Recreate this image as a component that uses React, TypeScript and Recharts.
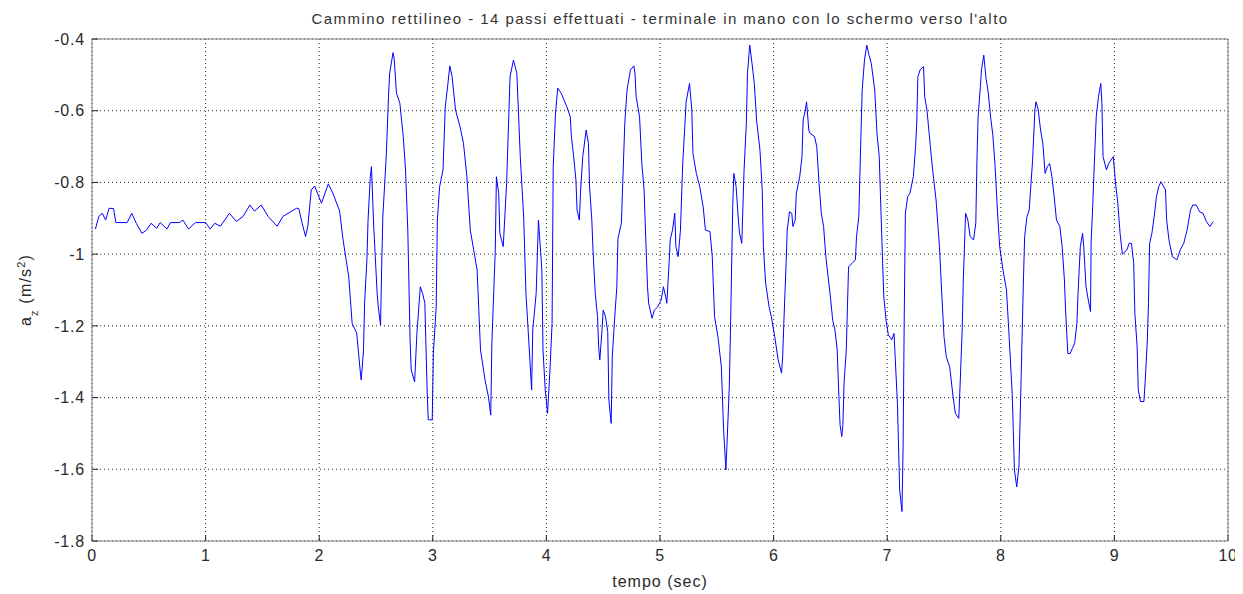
import React from 'react';
import { LineChart, Line, XAxis, YAxis, CartesianGrid, Label } from 'recharts';

// acceleration along z
const timeSec = [
  0.03, 0.06, 0.09, 0.12, 0.15, 0.19, 0.21, 0.31, 0.35, 0.39, 0.44, 0.48, 0.52, 0.57, 0.6, 0.66, 0.69, 0.77, 0.8, 0.85,
  0.91, 1.0, 1.04, 1.08, 1.13, 1.21, 1.27, 1.33, 1.39, 1.43, 1.49, 1.55, 1.63, 1.68, 1.8, 1.82, 1.85, 1.88, 1.9, 1.93,
  1.96, 2.02, 2.08, 2.12, 2.18, 2.21, 2.26, 2.29, 2.33, 2.36, 2.37, 2.39, 2.4, 2.42, 2.43, 2.45, 2.46, 2.48, 2.51, 2.52,
  2.54, 2.55, 2.56, 2.59, 2.61, 2.62, 2.65, 2.66, 2.68, 2.71, 2.74, 2.76, 2.78, 2.8, 2.81, 2.84, 2.86, 2.89, 2.91, 2.93,
  2.95, 2.96, 2.995, 3.005, 3.03, 3.04, 3.06, 3.09, 3.11, 3.13, 3.15, 3.17, 3.2, 3.24, 3.27, 3.3, 3.33, 3.36, 3.39, 3.42,
  3.46, 3.49, 3.51, 3.52, 3.55, 3.56, 3.58, 3.59, 3.62, 3.65, 3.68, 3.71, 3.74, 3.77, 3.8, 3.82, 3.84, 3.87, 3.88, 3.91,
  3.93, 3.94, 3.96, 3.97, 3.99, 4.01, 4.03, 4.05, 4.06, 4.08, 4.1, 4.13, 4.18, 4.21, 4.22, 4.24, 4.26, 4.27, 4.29, 4.3,
  4.32, 4.35, 4.37, 4.38, 4.4, 4.41, 4.43, 4.45, 4.46, 4.47, 4.49, 4.5, 4.52, 4.54, 4.55, 4.57, 4.58, 4.6, 4.62, 4.63,
  4.66, 4.69, 4.71, 4.74, 4.77, 4.78, 4.79, 4.82, 4.84, 4.86, 4.87, 4.89, 4.9, 4.93, 4.95, 4.98, 5.01, 5.03, 5.05, 5.06,
  5.08, 5.09, 5.11, 5.13, 5.14, 5.16, 5.18, 5.2, 5.22, 5.23, 5.26, 5.28, 5.29, 5.32, 5.35, 5.38, 5.4, 5.44, 5.46, 5.48,
  5.51, 5.54, 5.56, 5.58, 5.59, 5.61, 5.62, 5.64, 5.65, 5.67, 5.69, 5.7, 5.72, 5.74, 5.76, 5.77, 5.79, 5.81, 5.83, 5.85,
  5.88, 5.9, 5.91, 5.93, 5.96, 5.98, 6.01, 6.04, 6.07, 6.08, 6.09, 6.11, 6.12, 6.14, 6.16, 6.17, 6.19, 6.2, 6.23, 6.25,
  6.26, 6.28, 6.29, 6.31, 6.32, 6.36, 6.38, 6.4, 6.42, 6.44, 6.46, 6.48, 6.5, 6.52, 6.54, 6.56, 6.575, 6.585, 6.6, 6.61,
  6.62, 6.64, 6.65, 6.66, 6.69, 6.72, 6.73, 6.75, 6.77, 6.78, 6.8, 6.82, 6.84, 6.86, 6.89, 6.91, 6.93, 6.94, 6.96, 6.97,
  6.99, 7.01, 7.04, 7.06, 7.07, 7.09, 7.11, 7.13, 7.14, 7.15, 7.16, 7.18, 7.2, 7.23, 7.25, 7.26, 7.27, 7.29, 7.32, 7.33,
  7.35, 7.38, 7.4, 7.43, 7.46, 7.48, 7.5, 7.52, 7.55, 7.58, 7.6, 7.63, 7.64, 7.66, 7.67, 7.69, 7.71, 7.73, 7.76, 7.78,
  7.79, 7.8, 7.82, 7.83, 7.85, 7.87, 7.89, 7.91, 7.93, 7.95, 7.97, 7.99, 8.02, 8.05, 8.07, 8.1, 8.11, 8.12, 8.14, 8.16,
  8.18, 8.2, 8.21, 8.23, 8.25, 8.26, 8.28, 8.3, 8.31, 8.33, 8.35, 8.37, 8.39, 8.41, 8.43, 8.45, 8.47, 8.49, 8.52, 8.54,
  8.56, 8.57, 8.59, 8.61, 8.63, 8.65, 8.67, 8.68, 8.7, 8.72, 8.73, 8.75, 8.77, 8.79, 8.795, 8.81, 8.82, 8.84, 8.86, 8.88,
  8.89, 8.9, 8.93, 8.95, 8.97, 8.99, 9.01, 9.03, 9.05, 9.07, 9.11, 9.13, 9.15, 9.17, 9.18, 9.2, 9.21, 9.23, 9.26, 9.27,
  9.29, 9.3, 9.31, 9.33, 9.35, 9.37, 9.39, 9.41, 9.45, 9.46, 9.48, 9.51, 9.55, 9.58, 9.61, 9.64, 9.67, 9.69, 9.72, 9.75,
  9.78, 9.81, 9.84, 9.87,
];

const azValues = [
  -0.93, -0.895, -0.886, -0.905, -0.872, -0.873, -0.912, -0.912, -0.886, -0.914, -0.942, -0.933, -0.914, -0.928, -0.912, -0.93, -0.912, -0.912, -0.905, -0.93,
  -0.912, -0.912, -0.93, -0.914, -0.922, -0.886, -0.909, -0.895, -0.863, -0.88, -0.863, -0.895, -0.922, -0.895, -0.872, -0.873, -0.914, -0.951, -0.922, -0.821,
  -0.81, -0.858, -0.804, -0.83, -0.88, -0.96, -1.063, -1.193, -1.22, -1.323, -1.351, -1.267, -1.133, -1.016, -0.905, -0.784, -0.756, -0.923, -1.109, -1.147,
  -1.198, -1.035, -0.896, -0.728, -0.561, -0.496, -0.438, -0.455, -0.551, -0.579, -0.672, -0.765, -0.933, -1.239, -1.323, -1.356, -1.221, -1.091, -1.109, -1.137,
  -1.379, -1.462, -1.462, -1.276, -1.147, -0.905, -0.812, -0.765, -0.589, -0.533, -0.475, -0.505, -0.598, -0.645, -0.691, -0.784, -0.933, -0.988, -1.044, -1.267,
  -1.351, -1.398, -1.449, -1.249, -0.988, -0.784, -0.83, -0.942, -0.979, -0.802, -0.505, -0.459, -0.496, -0.728, -0.896, -1.109, -1.216, -1.379, -1.211, -1.109,
  -0.905, -0.951, -1.044, -1.267, -1.379, -1.444, -1.332, -1.193, -0.756, -0.607, -0.537, -0.551, -0.589, -0.617, -0.672, -0.728, -0.793, -0.877, -0.905, -0.83,
  -0.728, -0.654, -0.691, -0.812, -0.905, -0.988, -1.109, -1.174, -1.258, -1.295, -1.211, -1.156, -1.174, -1.216, -1.407, -1.472, -1.286, -1.184, -1.091, -0.956,
  -0.914, -0.635, -0.542, -0.486, -0.475, -0.496, -0.561, -0.617, -0.747, -0.821, -0.914, -1.091, -1.137, -1.179, -1.156, -1.147, -1.128, -1.091, -1.119, -1.137,
  -1.026, -0.96, -0.933, -0.886, -0.979, -1.007, -0.933, -0.747, -0.635, -0.575, -0.524, -0.598, -0.719, -0.775, -0.812, -0.868, -0.933, -0.937, -1.007, -1.174,
  -1.23, -1.314, -1.49, -1.602, -1.528, -1.37, -1.221, -0.868, -0.775, -0.812, -0.905, -0.942, -0.97, -0.765, -0.635, -0.496, -0.417, -0.468, -0.524, -0.626,
  -0.71, -0.821, -0.979, -1.081, -1.147, -1.174, -1.23, -1.295, -1.332, -1.286, -1.193, -1.026, -0.933, -0.882, -0.886, -0.923, -0.905, -0.83, -0.784, -0.728,
  -0.626, -0.598, -0.575, -0.654, -0.663, -0.672, -0.7, -0.802, -0.886, -0.923, -1.007, -1.063, -1.119, -1.184, -1.211, -1.267, -1.398, -1.476, -1.509, -1.476,
  -1.36, -1.267, -1.147, -1.035, -1.026, -1.016, -0.951, -0.896, -0.654, -0.542, -0.459, -0.417, -0.445, -0.468, -0.542, -0.663, -0.728, -0.83, -1.026, -1.119,
  -1.184, -1.225, -1.239, -1.221, -1.286, -1.416, -1.658, -1.718, -1.537, -1.174, -0.886, -0.84, -0.83, -0.784, -0.7, -0.635, -0.505, -0.486, -0.477, -0.561,
  -0.598, -0.7, -0.765, -0.849, -0.979, -1.109, -1.23, -1.286, -1.314, -1.398, -1.444, -1.458, -1.379, -1.211, -1.072, -0.886, -0.905, -0.951, -0.96, -0.914,
  -0.738, -0.617, -0.533, -0.486, -0.445, -0.51, -0.551, -0.617, -0.668, -0.756, -0.877, -0.979, -1.045, -1.1, -1.211, -1.388, -1.49, -1.602, -1.649, -1.59,
  -1.332, -1.063, -0.951, -0.896, -0.877, -0.83, -0.738, -0.598, -0.575, -0.598, -0.654, -0.691, -0.775, -0.756, -0.747, -0.784, -0.84, -0.905, -0.923, -0.979,
  -1.072, -1.156, -1.277, -1.277, -1.263, -1.249, -1.193, -1.109, -0.979, -0.942, -0.979, -1.091, -1.128, -1.16, -0.97, -0.858, -0.775, -0.617, -0.561, -0.524,
  -0.579, -0.728, -0.765, -0.747, -0.738, -0.728, -0.802, -0.858, -0.942, -1.0, -0.988, -0.97, -0.97, -1.026, -1.165, -1.258, -1.379, -1.411, -1.411, -1.36,
  -1.239, -1.137, -0.97, -0.942, -0.896, -0.84, -0.812, -0.798, -0.821, -0.905, -0.96, -1.007, -1.016, -0.988, -0.97, -0.933, -0.877, -0.863, -0.863, -0.882,
  -0.886, -0.909, -0.923, -0.909,
];

const xTicks = [0, 1, 2, 3, 4, 5, 6, 7, 8, 9, 10];
const yTicks = [-1.8, -1.6, -1.4, -1.2, -1, -0.8, -0.6, -0.4];

const chartTitle = "Cammino rettilineo - 14 passi effettuati - terminale in mano con lo schermo verso l'alto";
const xAxisTitle = 'tempo (sec)';

const FONT = '"Liberation Sans", Arial, Helvetica, sans-serif';
const TEXT = '#2a2a2a';

const rows = timeSec.map((t, i) => ({ t, az: azValues[i] }));

const BottomTick = ({ x, y, payload }: any) => (
  <text x={x} y={y} dy="0.71em" textAnchor="middle" fontSize={16} fill={TEXT} fontFamily={FONT} letterSpacing={0.5}>
    {payload.value}
  </text>
);

const LeftTick = ({ x, y, payload }: any) => (
  <text x={x} y={y} dy="0.355em" textAnchor="end" fontSize={16} fill={TEXT} fontFamily={FONT} letterSpacing={0.8}>
    {payload.value}
  </text>
);

const TitleLabel = ({ viewBox }: any) => (
  <text
    x={viewBox.x + viewBox.width / 2}
    y={viewBox.y - 14}
    textAnchor="middle"
    fontSize={15}
    fill="#333"
    fontFamily={FONT}
    letterSpacing={1.45}
  >
    {chartTitle}
  </text>
);

const XTitle = ({ viewBox }: any) => (
  <text
    x={viewBox.x + viewBox.width / 2}
    y={viewBox.y + 46}
    textAnchor="middle"
    fontSize={16}
    fill={TEXT}
    fontFamily={FONT}
    letterSpacing={1}
  >
    {xAxisTitle}
  </text>
);

const YTitle = ({ viewBox }: any) => {
  const x = viewBox.x + viewBox.width - 61;
  const y = viewBox.y + viewBox.height / 2;
  return (
    <text
      x={x}
      y={y}
      transform={`rotate(-90, ${x}, ${y})`}
      textAnchor="middle"
      fontSize={16}
      fill={TEXT}
      fontFamily={FONT}
      letterSpacing={1.2}
    >
      a
      <tspan dy={7} fontSize={11}>z</tspan>
      <tspan dy={-7}> (m/s</tspan>
      <tspan dy={-6} fontSize={11}>2</tspan>
      <tspan dy={6}>)</tspan>
    </text>
  );
};

export default function App() {
  return (
    <div style={{ width: 1235, height: 586, background: '#fff' }}>
      <LineChart width={1235} height={586} data={rows} margin={{ top: 30, right: 14, bottom: 33, left: 44 }}>
        <CartesianGrid stroke="#000" strokeDasharray="1 3" strokeOpacity={0.85} />
        <XAxis
          dataKey="t"
          type="number"
          domain={[0, 10]}
          ticks={xTicks}
          height={20}
          axisLine={{ stroke: '#808080' }}
          tickLine={{ stroke: '#222' }}
          tickSize={-6}
          tickMargin={15}
          tick={<BottomTick />}
          interval={0}
        >
          <Label content={<XTitle />} />
        </XAxis>
        <XAxis
          xAxisId="top"
          orientation="top"
          dataKey="t"
          type="number"
          domain={[0, 10]}
          ticks={xTicks}
          height={1}
          axisLine={{ stroke: '#808080' }}
          tickLine={{ stroke: '#222' }}
          tickSize={-6}
          tick={false}
          interval={0}
        >
          <Label content={<TitleLabel />} />
        </XAxis>
        <YAxis
          type="number"
          domain={[-1.8, -0.4]}
          ticks={yTicks}
          width={40}
          axisLine={{ stroke: '#808080' }}
          tickLine={{ stroke: '#222' }}
          tickSize={-6}
          tickMargin={13}
          tick={<LeftTick />}
          interval={0}
        >
          <Label content={<YTitle />} />
        </YAxis>
        <YAxis
          yAxisId="right"
          orientation="right"
          type="number"
          domain={[-1.8, -0.4]}
          ticks={yTicks}
          width={1}
          axisLine={{ stroke: '#808080' }}
          tickLine={{ stroke: '#222' }}
          tickSize={-6}
          tick={false}
          interval={0}
        />
        <Line
          type="linear"
          dataKey="az"
          stroke="#0000ff"
          strokeWidth={1}
          dot={false}
          activeDot={false}
          isAnimationActive={false}
        />
      </LineChart>
    </div>
  );
}
